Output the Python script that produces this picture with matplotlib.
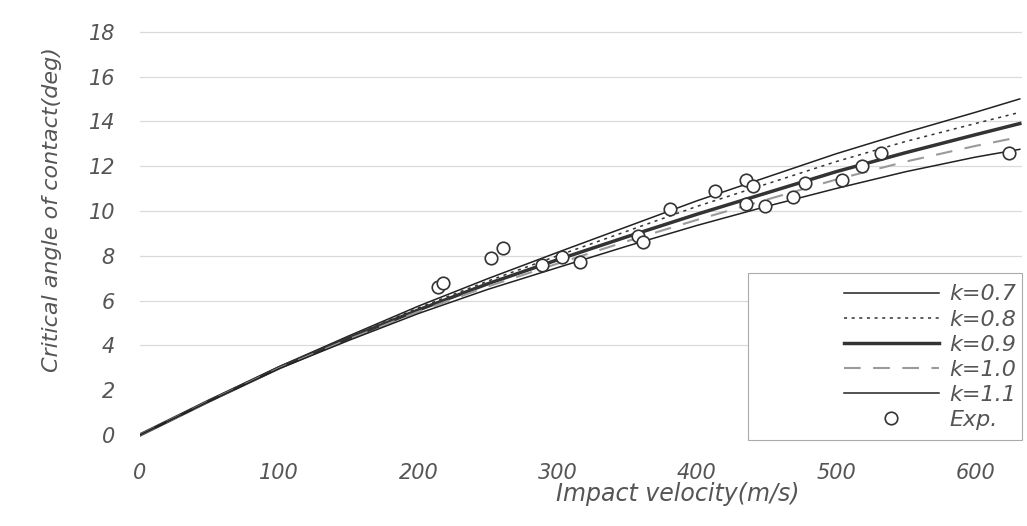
import matplotlib
matplotlib.use("Agg")
import matplotlib.pyplot as plt
from matplotlib.patches import Rectangle

# ---- data ----
velocity = [0, 50, 100, 150, 200, 250, 300, 350, 400, 450, 500, 550, 600, 632]
k07 = [0, 1.55, 3.05, 4.42, 5.75, 6.98, 8.15, 9.30, 10.45, 11.50, 12.55, 13.50, 14.40, 15.00]
k08 = [0, 1.54, 3.03, 4.37, 5.67, 6.87, 8.00, 9.10, 10.20, 11.20, 12.20, 13.10, 13.90, 14.40]
k09 = [0, 1.53, 3.00, 4.32, 5.58, 6.75, 7.82, 8.85, 9.85, 10.80, 11.75, 12.60, 13.40, 13.90]
k10 = [0, 1.52, 2.98, 4.27, 5.50, 6.63, 7.65, 8.65, 9.60, 10.50, 11.40, 12.20, 12.90, 13.30]
k11 = [0, 1.51, 2.96, 4.22, 5.42, 6.50, 7.47, 8.43, 9.35, 10.20, 11.00, 11.75, 12.40, 12.75]

exp_v = [214, 218, 252, 261, 289, 303, 316, 358, 361, 381, 413, 435, 440, 435,
         449, 469, 478, 504, 519, 532, 624]
exp_a = [6.6, 6.8, 7.9, 8.35, 7.6, 7.95, 7.7, 8.9, 8.6, 10.1, 10.9, 11.4, 11.1, 10.3,
         10.2, 10.6, 11.25, 11.4, 12.0, 12.6, 12.6]

x_ticks = [0, 100, 200, 300, 400, 500, 600]
y_ticks = [0, 2, 4, 6, 8, 10, 12, 14, 16, 18]
labels = ["k=0.7", "k=0.8", "k=0.9", "k=1.0", "k=1.1", "Exp."]

# ---- figure ----
plt.rcParams['font.family'] = ['DejaVu Sans']
W, H = 1027, 526
fig = plt.figure(figsize=(W / 100, H / 100), dpi=100)
ax = fig.add_axes([140 / W, (H - 445) / H, 882 / W, 420 / H])

txt_col = '#555555'
ax.set_xlim(0, 633.6)
ax.set_ylim(-0.45, 18.3)

for yv in y_ticks[2:]:
    ax.axhline(yv, color='#dadada', lw=0.9, zorder=0)

ax.plot(velocity, k07, color='#222222', lw=1.1, ls='-', label=labels[0])
ax.plot(velocity, k08, color='#333333', lw=1.1, ls=(0, (2, 3)), label=labels[1])
ax.plot(velocity, k09, color='#333333', lw=2.5, ls='-', label=labels[2])
ax.plot(velocity, k10, color='#9a9a9a', lw=1.5, ls=(0, (8, 6)), label=labels[3])
ax.plot(velocity, k11, color='#222222', lw=1.1, ls='-', label=labels[4])
ax.plot(exp_v, exp_a, ls='none', marker='o', markersize=9, markerfacecolor='white',
        markeredgecolor='#333333', markeredgewidth=1.2, label=labels[5], zorder=5)

for s in ax.spines.values():
    s.set_visible(False)
ax.set_xticks(x_ticks)
ax.set_yticks(y_ticks)
ax.tick_params(length=0, labelsize=15, labelcolor=txt_col)
ax.tick_params(axis='y', pad=18)
ax.tick_params(axis='x', pad=13)
for t in ax.get_xticklabels() + ax.get_yticklabels():
    t.set_fontstyle('italic')

fig.text(678 / W, 1 - 494 / H, "Impact velocity(m/s)", ha='center', va='center',
         fontsize=17, style='italic', color=txt_col)
fig.text(52 / W, 1 - 210 / H, "Critical angle of contact(deg)", ha='center', va='center',
         rotation=90, fontsize=16, style='italic', color=txt_col)

# legend frame (drawn in the axes, below the legend)
frame = Rectangle((748 / W, (H - 440) / H), 274 / W, 167 / H,
                  transform=fig.transFigure, facecolor='white',
                  edgecolor='#aaaaaa', lw=0.8, zorder=6, clip_on=False)
ax.add_patch(frame)

leg = ax.legend(loc='lower right', bbox_to_anchor=(1016 / W, (H - 430) / H),
                bbox_transform=fig.transFigure, borderaxespad=0, fontsize=16,
                handlelength=4.3, labelspacing=0.23, handletextpad=0.45,
                frameon=False, borderpad=0)
leg.set_zorder(7)
for t in leg.get_texts():
    t.set_fontstyle('italic')
    t.set_color(txt_col)

fig.savefig("out.png", dpi=100, facecolor='white')
